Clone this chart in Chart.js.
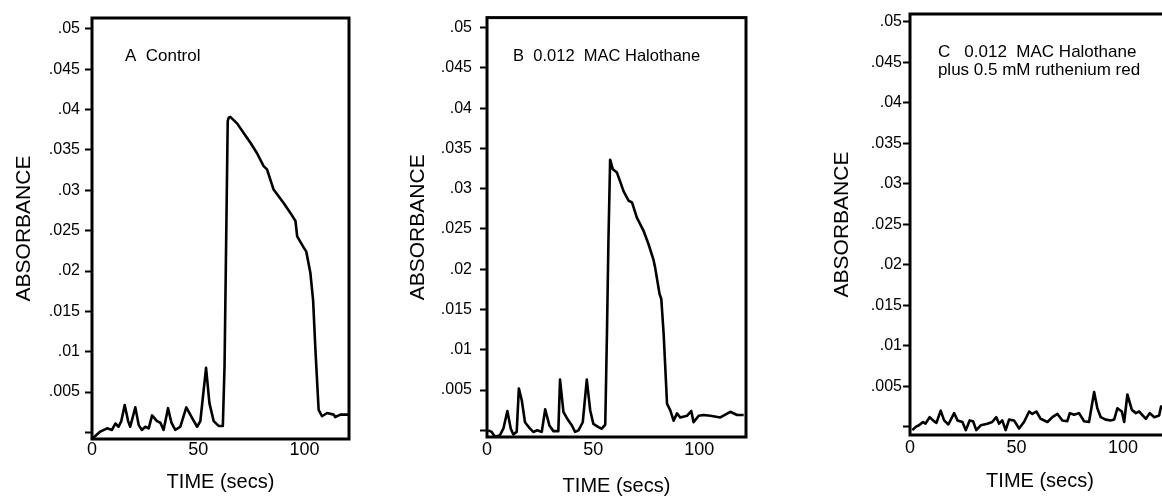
<!DOCTYPE html>
<html><head><meta charset="utf-8">
<script src="https://cdn.jsdelivr.net/npm/chart.js@4.4.1/dist/chart.umd.min.js"></script>
<style>
html,body{margin:0;padding:0;background:#fff;overflow:hidden;width:1162px;height:498px;position:relative;}
.panel{position:absolute;top:0;width:400px;height:498px;}
.panel canvas{display:block;}
</style></head><body>
<div class="panel" style="left:0px"><canvas id="cA" width="400" height="498" style="width:400px;height:498px"></canvas></div>
<div class="panel" style="left:390px"><canvas id="cB" width="400" height="498" style="width:400px;height:498px"></canvas></div>
<div class="panel" style="left:790px"><canvas id="cC" width="400" height="498" style="width:400px;height:498px"></canvas></div>
<script>
// ---- data (time in secs, absorbance) ----
const timeA = [0.5, 3.9, 7.1, 9.4, 11, 12.5, 13.8, 15.4, 17, 18, 20.4, 22, 23.5, 25.1, 26.7, 28.3, 30.6, 32.2, 33.7, 35.8, 37.4, 39.2, 41.6, 44.4, 47.1, 49.5, 51, 53.7, 55.3, 57.3, 59.6, 61.6, 62.4, 63.9, 64.4, 65.1, 66.7, 68.3, 71.4, 74.6, 77.7, 80.8, 82.4, 85.5, 90.3, 93.4, 95.8, 96.6, 99.7, 100.9, 102.8, 104.1, 105.2, 106.7, 108.3, 110.7, 113.8, 114.5, 117, 120.9];
const absA  = [-0.0007, 0.0001, 0.0005, 0.0003, 0.0011, 0.0007, 0.0014, 0.0034, 0.0014, 0.0007, 0.0031, 0.0009, 0.0003, 0.0007, 0.0005, 0.0021, 0.0014, 0.0012, 0.0003, 0.0030, 0.0012, 0.0003, 0.0007, 0.0031, 0.0018, 0.0007, 0.0014, 0.0080, 0.0036, 0.0014, 0.0008, 0.0008, 0.0082, 0.0386, 0.0390, 0.0391, 0.0387, 0.0383, 0.0371, 0.0359, 0.0346, 0.0330, 0.0326, 0.0301, 0.0284, 0.0272, 0.0262, 0.0243, 0.0229, 0.0224, 0.0198, 0.0164, 0.0102, 0.0028, 0.0020, 0.0024, 0.0022, 0.0019, 0.0022, 0.0022];

const timeB = [0.6, 2.2, 3.8, 6.1, 7.7, 9.6, 11.2, 12.4, 14, 15, 16.4, 17.9, 20.3, 21.8, 23.7, 25.8, 27.4, 29.4, 31.3, 33.6, 34.4, 36, 37.9, 40, 41.5, 43.1, 45.1, 47, 48.6, 50.1, 52.5, 54.1, 55.7, 56.5, 57.2, 58, 59.3, 61.2, 62.7, 64.3, 66.7, 68.3, 70.6, 73.7, 76.1, 78.4, 79.2, 81.3, 82.1, 83.2, 84.8, 86.3, 87.9, 89.5, 91, 94.2, 96.2, 97.3, 99.7, 102, 105.2, 109.9, 114.6, 117.8, 120.9];
const absB  = [0, -0.0002, -0.0008, -0.0006, 0.0002, 0.0024, 0.0002, -0.0005, -0.0002, 0.0052, 0.0037, 0.0010, 0.0002, -0.0002, 0, -0.0002, 0.0026, 0.0006, -0.0001, -0.0001, 0.0063, 0.0023, 0.0014, 0.0006, -0.0002, 0, 0.0010, 0.0063, 0.0025, 0.0008, 0.0004, 0.0002, 0.0007, 0.0120, 0.0235, 0.0336, 0.0324, 0.0320, 0.0309, 0.0297, 0.0285, 0.0283, 0.0264, 0.0248, 0.0231, 0.0212, 0.0202, 0.0169, 0.0163, 0.0120, 0.0033, 0.0025, 0.0012, 0.0021, 0.0016, 0.0018, 0.0024, 0.0010, 0.0018, 0.0019, 0.0018, 0.0016, 0.0023, 0.0019, 0.0019];

const timeC = [1.1, 2.7, 4.2, 6.1, 7.3, 9.2, 10.8, 12.4, 14.4, 16, 18, 20.7, 22.3, 24.6, 26.2, 28, 29.6, 31.1, 33.2, 36.3, 38.6, 40.5, 41.8, 43.3, 44.9, 46.5, 48.8, 51.2, 53.5, 55.9, 57.4, 59.3, 61.3, 64.5, 66.8, 69.2, 71.5, 73.8, 75, 77, 79.3, 81.7, 84, 86.4, 87.9, 89.5, 91.8, 94.2, 95.8, 97.3, 99.4, 100.5, 102, 104.1, 106, 107.5, 110.7, 112.5, 114.6, 116.9, 117.8, 120];
const absC  = [-0.0004, 0, 0.0002, 0.0006, 0.0004, 0.0012, 0.0008, 0.0005, 0.0020, 0.0008, 0.0003, 0.0017, 0.0008, 0.0006, -0.0004, 0.0008, 0.0007, -0.0004, 0.0002, 0.0004, 0.0006, 0.0012, 0.0004, 0.0008, -0.0004, 0.0009, 0.0008, -0.0002, 0.0006, 0.0019, 0.0016, 0.0019, 0.0010, 0.0006, 0.0012, 0.0016, 0.0008, 0.0007, 0.0017, 0.0015, 0.0017, 0.0007, 0.0006, 0.0043, 0.0023, 0.0012, 0.0009, 0.0008, 0.0009, 0.0023, 0.0019, 0.0006, 0.0040, 0.0021, 0.0017, 0.0019, 0.0010, 0.0017, 0.0012, 0.0014, 0.0025, 0.0025];

// ---- ticks & text ----
const yTickValues = [0, 0.005, 0.01, 0.015, 0.02, 0.025, 0.03, 0.035, 0.04, 0.045, 0.05];
const yTickLabels = ['', '.005', '.01', '.015', '.02', '.025', '.03', '.035', '.04', '.045', '.05'];
const xTickValues = [0, 50, 100];
const xTickLabels = ['0', '50', '100'];
const yTitle = 'ABSORBANCE';
const xTitle = 'TIME (secs)';
const notesA = ['A  Control'];
const notesB = ['B  0.012  MAC Halothane'];
const notesC = ['C   0.012  MAC Halothane', 'plus 0.5 mM ruthenium red'];

const FONT = "'Liberation Sans', Arial, Helvetica, sans-serif";
Chart.defaults.font.family = FONT;
Chart.defaults.color = '#000';

const boxPlugin = {
  id: 'box',
  afterDatasetsDraw(chart) {
    const a = chart.chartArea, ctx = chart.ctx;
    ctx.save();
    ctx.strokeStyle = '#000';
    ctx.lineWidth = 3;
    ctx.strokeRect(a.left, a.top, a.right - a.left, a.bottom - a.top);
    ctx.restore();
  }
};
const notePlugin = {
  id: 'notes',
  afterDatasetsDraw(chart, args, opts) {
    const ctx = chart.ctx, xs = chart.scales.x, ys = chart.scales.y;
    ctx.save();
    ctx.font = opts.size + 'px ' + FONT;
    ctx.fillStyle = '#000';
    ctx.textAlign = 'left';
    ctx.textBaseline = 'alphabetic';
    opts.lines.forEach((t, i) => ctx.fillText(t, xs.getPixelForValue(opts.x), ys.getPixelForValue(opts.y[i])));
    ctx.restore();
  }
};

function makePanel(id, times, values, notes, L) {
  const pts = times.map((t, i) => ({x: t, y: values[i]}));
  return new Chart(document.getElementById(id), {
    type: 'line',
    data: { datasets: [{ data: pts, borderColor: '#000', borderWidth: 2.6, pointRadius: 0, tension: 0, fill: false, borderJoinStyle: 'round' }] },
    plugins: [boxPlugin, notePlugin],
    options: {
      responsive: false, animation: false, devicePixelRatio: 1,
      layout: { padding: L.pad },
      plugins: {
        legend: { display: false }, tooltip: { enabled: false }, title: { display: false },
        notes: { lines: notes, x: L.noteX, y: L.noteY, size: L.noteSize }
      },
      scales: {
        x: {
          type: 'linear', min: 0, max: L.xMax,
          afterBuildTicks: s => { s.ticks = xTickValues.map(v => ({value: v})); },
          afterFit: s => { s.height = L.xH; },
          grid: { display: false, drawTicks: false }, border: { display: false },
          ticks: { autoSkip: false, maxRotation: 0, minRotation: 0, padding: L.xTickPad,
                   font: { size: 18 }, color: '#000',
                   callback: (v, i) => xTickLabels[i] },
          title: { display: true, text: xTitle, font: { size: 20 }, color: '#000', padding: { top: 0, bottom: L.xTitlePad } }
        },
        y: {
          type: 'linear', min: L.yMin, max: L.yMax,
          afterBuildTicks: s => { s.ticks = yTickValues.map(v => ({value: v})); },
          afterFit: s => { s.width = L.yW; },
          grid: { display: true, drawOnChartArea: false, drawTicks: true, tickLength: 7, tickWidth: 2, tickColor: '#000', color: '#000' },
          border: { display: false },
          ticks: { autoSkip: false, padding: L.yTickPad, font: { size: 16 }, color: '#000',
                   callback: (v, i) => yTickLabels[i] },
          title: { display: true, text: yTitle, font: { size: 21 }, color: '#000', padding: { top: L.yTitlePad, bottom: 0 } }
        }
      }
    }
  });
}

makePanel('cA', timeA, absA, notesA, {
  pad: { left: 0, top: 18, right: 51, bottom: 0 }, yW: 92, xH: 59,
  xMax: 121, yMin: -0.00082, yMax: 0.05136,
  xTickPad: 0, xTitlePad: 4, yTickPad: 5, yTitlePad: 12,
  noteX: 15.5, noteY: [0.0460], noteSize: 17
});
makePanel('cB', timeB, absB, notesB, {
  pad: { left: 0, top: 16, right: 44, bottom: 0 }, yW: 97, xH: 61,
  xMax: 122, yMin: -0.00083, yMax: 0.05124,
  xTickPad: 2, xTitlePad: 0, yTickPad: 8, yTitlePad: 16,
  noteX: 12.3, noteY: [0.0458], noteSize: 16.5
});
makePanel('cC', timeC, absC, notesC, {
  pad: { left: 0, top: 14, right: 20, bottom: 0 }, yW: 120, xH: 63,
  xMax: 122, yMin: -0.001, yMax: 0.05095,
  xTickPad: 2, xTitlePad: 5, yTickPad: 1, yTitlePad: 40,
  noteX: 13.1, noteY: [0.0456, 0.0434], noteSize: 17
});
</script>
</body></html>
